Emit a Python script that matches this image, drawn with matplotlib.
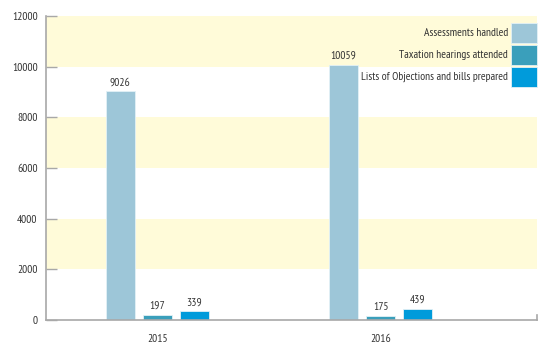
import matplotlib
matplotlib.use('Agg')
import matplotlib.pyplot as plt
from matplotlib.patches import Rectangle
import numpy as np

plt.rcParams['font.family'] = ['PT Sans Narrow', 'Roboto Condensed', 'Archivo Narrow',
                               'Liberation Sans Narrow', 'DejaVu Sans']

years = ['2015', '2016']
series_names = ['Assessments handled', 'Taxation hearings attended',
                'Lists of Objections and bills prepared']
assessments = [9026, 10059]
hearings = [197, 175]
objections = [339, 439]

colors = ['#9dc6d8', '#3a9fbb', '#009bdb']
band_color = '#fffbd9'
grey = '#a8a8a8'
txt = '#333333'

fig = plt.figure(figsize=(5.6, 3.51), dpi=100)
ax = fig.add_axes([0.0821, 0.0883, 0.877, 0.866])

# bandas amarillas
for lo, hi in [(2000, 4000), (6000, 8000), (10000, 12000)]:
    ax.axhspan(lo, hi, color=band_color, lw=0, zorder=0)

x = np.arange(len(years))
w = 0.13
off = 0.166
for i, (vals, col) in enumerate(zip([assessments, hearings, objections], colors)):
    xs = x + (i - 1) * off
    ax.bar(xs, vals, w, color=col, edgecolor='#e3f1f6', linewidth=0.6, zorder=2)
    for xi, v in zip(xs, vals):
        ax.text(xi, v + 160, str(v), ha='center', va='bottom', fontsize=8.3,
                color=txt)

# leyenda a mano: texto a la izquierda, cuadrado a la derecha
pw, ph, pitch = 0.053, 0.066, 0.0724
for i, (name, col) in enumerate(zip(series_names, colors)):
    top = 0.977 - i * pitch
    ax.add_patch(Rectangle((1 - pw, top - ph), pw, ph, transform=ax.transAxes,
                           facecolor=col, edgecolor='#e3f1f6', lw=0.6,
                           clip_on=False, zorder=3))
    ax.text(1 - pw - 0.006, top - ph / 2, name, transform=ax.transAxes,
            ha='right', va='center', fontsize=8.3, color=txt)

ax.set_xlim(-0.498, 1.70)
ax.set_ylim(0, 12000)
ax.set_yticks(range(0, 12001, 2000))
ax.set_xticks(x)
ax.set_xticklabels(years)

for s in ['top', 'right']:
    ax.spines[s].set_visible(False)
ax.spines['left'].set_color(grey)
ax.spines['bottom'].set_color(grey)
ax.spines['left'].set_linewidth(1.2)
ax.spines['bottom'].set_linewidth(1.2)
ax.tick_params(axis='y', direction='in', length=8, color=grey, width=1,
               labelsize=8.3, labelcolor=txt, pad=6)
ax.tick_params(axis='x', length=0, labelsize=8.3, labelcolor=txt, pad=10)
ax.plot([1, 1], [0, 0.018], transform=ax.transAxes, color=grey, lw=1.2,
        clip_on=False)

fig.savefig('out.png', dpi=100)
